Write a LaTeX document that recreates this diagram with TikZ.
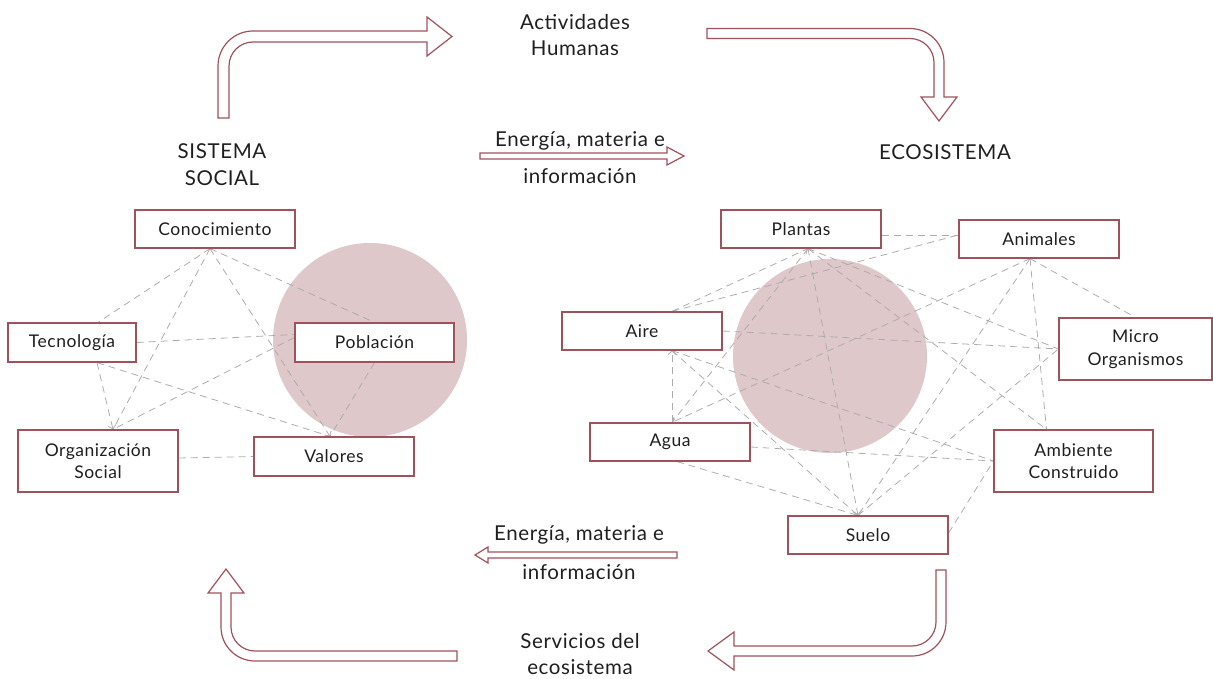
\documentclass[tikz,border=0pt]{standalone}
\usepackage{fontspec}
\setmainfont{Lato}[LetterSpace=3]
\usetikzlibrary{arrows.meta}
\definecolor{wine}{RGB}{160,82,92}
\definecolor{blush}{RGB}{223,200,202}
\definecolor{dashgray}{RGB}{172,172,172}
\tikzset{
  box/.style={draw=wine, line width=1.2pt, fill=white, minimum width=160pt, minimum height=38pt, inner sep=2pt, align=center, font=\fontsize{17.5}{22.5}\selectfont, text=black!88},
  lnk/.style={draw=dashgray, line width=0.8pt, dash pattern=on 7pt off 5pt},
  lnka/.style={lnk, -{Straight Barb[length=3.5pt,width=8pt]}},
  blk/.style={draw=wine, line width=1.2pt, fill=white, line join=miter},
  ttl/.style={align=center, font=\fontsize{20.5}{26.5}\selectfont, text=black!88, inner sep=0pt},
}
\begin{document}
\begin{tikzpicture}[x=1pt, y=-1pt]
\useasboundingbox (0,0) rectangle (1213,679);
% circles
\fill[blush] (370,340) circle (97);
\fill[blush] (830,356) circle (97);

% boxes (left)
\node[box] (conoc) at (215,229) {Conocimiento};
\node[box, minimum width=128pt, minimum height=39pt] (tecno) at (72,342.5) {Tecnología};
\node[box, minimum width=159pt, minimum height=39pt] (pobl) at (374.5,342.5) {Población};
\node[box, minimum height=62pt] (org) at (98,461) {Organización\\Social};
\node[box, minimum height=39pt] (val) at (334,456.5) {Valores};
% boxes (right)
\node[box] (plant) at (801,229) {Plantas};
\node[box] (anim) at (1039,239) {Animales};
\node[box] (aire) at (642,331) {Aire};
\node[box, minimum width=153pt, minimum height=62pt] (micro) at (1135.5,349) {Micro\\Organismos};
\node[box] (agua) at (670,442) {Agua};
\node[box, minimum width=159pt, minimum height=62pt] (amb) at (1073.5,461) {Ambiente\\Construido};
\node[box] (suelo) at (868,535) {Suelo};

% dashed links (left)
\path[lnk] ([xshift=-5pt]conoc.south) -- ([xshift=26pt]tecno.north);
\path[lnk] ([xshift=-5pt]conoc.south) -- ([xshift=15pt]org.north);
\path[lnka] ([xshift=-5pt]conoc.south) -- ([xshift=-4pt]val.north);
\path[lnk] ([xshift=-5pt]conoc.south) -- (pobl.north);
\path[lnk] (tecno.east) -- ([yshift=8pt]pobl.west);
\path[lnk] ([yshift=5pt]pobl.west) -- ([xshift=15pt]org.north);
\path[lnk] ([xshift=25pt]tecno.south) -- ([xshift=-4pt]val.north);
\path[lnka] ([xshift=25pt]tecno.south) -- ([xshift=15pt]org.north);
\path[lnk] (pobl.south) -- ([xshift=-4pt]val.north);
\path[lnk] ([yshift=3pt]org.east) -- (val.west);

% dashed links (right)
\path[lnk] ([yshift=-6pt]plant.east) -- ([yshift=4pt]anim.west);
\path[lnka] ([xshift=30pt]aire.north) -- ([xshift=7pt]plant.south);
\path[lnk] ([xshift=30pt]aire.north) -- ([yshift=4pt]anim.west);
\path[lnk] ([xshift=7pt]plant.south) -- ([xshift=2pt]agua.north);
\path[lnka] ([xshift=7pt]plant.south) -- ([xshift=-10pt]suelo.north);
\path[lnk] ([xshift=7pt]plant.south) -- (micro.west);
\path[lnk] ([xshift=7pt]plant.south) -- ([xshift=-27pt]amb.north);
\path[lnk] ([xshift=-9pt]anim.south) -- (micro.north);
\path[lnk] ([xshift=-9pt]anim.south) -- ([xshift=-27pt]amb.north);
\path[lnk] ([xshift=-9pt]anim.south) -- ([xshift=-10pt]suelo.north);
\path[lnka] ([xshift=-9pt]anim.south) -- ([xshift=2pt]agua.north);
\path[lnk] (aire.east) -- (micro.west);
\path[lnka] ([xshift=2pt]agua.north) -- ([xshift=30pt]aire.south);
\path[lnk] ([xshift=30pt]aire.south) -- (amb.west);
\path[lnk] ([xshift=30pt]aire.south) -- ([xshift=-10pt]suelo.north);
\path[lnk] ([yshift=-5pt]agua.east) -- (amb.west);
\path[lnk] ([xshift=7pt]agua.south) -- ([xshift=-10pt]suelo.north);
\path[lnk] ([yshift=2pt]suelo.east) -- (amb.west);
\path[lnk] ([xshift=-10pt]suelo.north) -- (micro.west);

% redraw boxes on top of links
\node[box] at (conoc) {Conocimiento};
\node[box, minimum width=128pt, minimum height=39pt] at (tecno) {Tecnología};
\node[box, minimum width=159pt, minimum height=39pt] at (pobl) {Población};
\node[box, minimum height=62pt] at (org) {Organización\\Social};
\node[box, minimum height=39pt] at (val) {Valores};
\node[box] at (plant) {Plantas};
\node[box] at (anim) {Animales};
\node[box] at (aire) {Aire};
\node[box, minimum width=153pt, minimum height=62pt] at (micro) {Micro\\Organismos};
\node[box] at (agua) {Agua};
\node[box, minimum width=159pt, minimum height=62pt] at (amb) {Ambiente\\Construido};
\node[box] at (suelo) {Suelo};

% block arrows
\draw[blk] (218,118) -- (218,66) .. controls (218,46.7) and (233.7,31) .. (253,31)
  -- (427,31) -- (427,17) -- (452,36.5) -- (427,56) -- (427,42) -- (253,42)
  .. controls (239.75,42) and (229,52.75) .. (229,66) -- (229,118) -- cycle;
\draw[blk] (707,28.5) -- (910,28.5) .. controls (928.8,28.5) and (944,43.7) .. (944,62.5)
  -- (944,97) -- (957,97) -- (939,121) -- (921,97) -- (934,97) -- (934,62.5)
  .. controls (934,49.25) and (923.25,38.5) .. (910,38.5) -- (707,38.5) -- cycle;
\draw[blk] (936,570) -- (946,570) -- (946,622) .. controls (946,640.8) and (930.8,656) .. (912,656)
  -- (734,656) -- (734,670) -- (708,651) -- (734,632) -- (734,646) -- (912,646)
  .. controls (925.25,646) and (936,635.25) .. (936,622) -- cycle;
\draw[blk] (457,651) -- (255,651) .. controls (241.75,651) and (231,640.25) .. (231,627)
  -- (231,593) -- (244,593) -- (226,569) -- (208,593) -- (221,593) -- (221,627)
  .. controls (221,645.8) and (236.2,661) .. (255,661) -- (457,661) -- cycle;
\draw[blk] (480,153) -- (667,153) -- (667,147) -- (684,156) -- (667,165) -- (667,159) -- (480,159) -- cycle;
\draw[blk] (677,552) -- (488,552) -- (488,547) -- (475,555) -- (488,563) -- (488,558) -- (677,558) -- cycle;

% titles
\node[ttl] (act) at (575,35) {Actividades\\Humanas};
\node[ttl] (soc) at (222,164.5) {SISTEMA\\SOCIAL};
\node[ttl] (eco) at (945,152) {ECOSISTEMA};
\node[ttl, font=\fontsize{20.5}{37}\selectfont] (emi1) at (580,158) {Energía, materia e\\información};
\node[ttl, font=\fontsize{20.5}{39}\selectfont] (emi2) at (579,553) {Energía, materia e\\información};
\node[ttl] (serv) at (580,654) {Servicios del\\ecosistema};
\end{tikzpicture}
\end{document}
